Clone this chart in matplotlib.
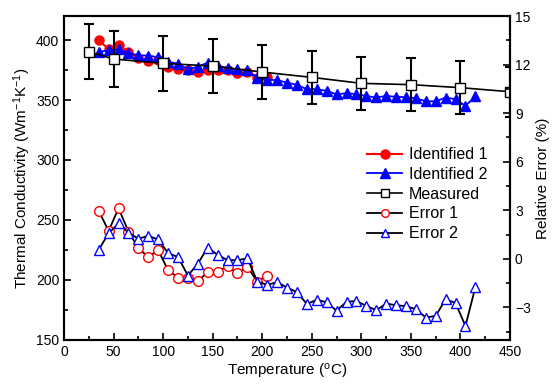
import matplotlib
matplotlib.use('Agg')
import matplotlib.pyplot as plt
from matplotlib.ticker import MultipleLocator

plt.rcParams['font.family'] = ['Liberation Sans', 'DejaVu Sans']
plt.rcParams['mathtext.default'] = 'regular'

# measured conductivity with error bars
t_meas = [25, 50, 100, 150, 200, 250, 300, 350, 400, 450]
k_meas = [390.3, 384.2, 380.6, 378.3, 373.3, 368.9, 363.9, 362.8, 360.3, 356.9]
k_err = [23, 23, 23, 22.5, 22.5, 22, 22, 22, 22, 21]

# identified values
t_id1 = [35, 45, 55, 65, 75, 85, 95, 105, 115, 125, 135, 145, 155, 165, 175, 185, 195, 205]
k_id1 = [400.0, 392.2, 396.0, 389.8, 385.1, 382.4, 383.0, 377.7, 375.5, 374.9,
         373.7, 375.4, 374.9, 375.1, 372.4, 373.0, 368.6, 369.2]
err1 = [2.96, 1.73, 3.13, 1.69, 0.66, 0.12, 0.54, -0.70, -1.15, -1.19,
        -1.36, -0.82, -0.78, -0.45, -0.90, -0.49, -1.40, -1.03]

t_id2 = list(range(35, 420, 10))
k_id2 = [390.1, 391.5, 392.2, 389.3, 387.2, 387.1, 385.6, 381.7, 380.4, 375.5,
         377.9, 381.1, 378.7, 376.5, 375.5, 374.9, 368.6, 366.9, 366.6, 364.5,
         362.6, 359.0, 359.1, 357.6, 354.7, 355.7, 354.9, 353.3, 352.1, 353.4,
         352.7, 352.3, 351.4, 349.0, 348.9, 352.0, 350.7, 345.1, 353.0]
err2 = [0.56, 1.59, 2.20, 1.62, 1.25, 1.42, 1.20, 0.35, 0.12, -1.03,
        -0.29, 0.70, 0.25, -0.08, -0.08, 0.04, -1.40, -1.60, -1.44, -1.77,
        -2.05, -2.79, -2.52, -2.68, -3.20, -2.65, -2.60, -2.90, -3.17, -2.76,
        -2.86, -2.92, -3.10, -3.62, -3.52, -2.49, -2.73, -4.14, -1.75]

fig = plt.figure(figsize=(5.52, 3.92), dpi=100)
ax = fig.add_axes([0.116, 0.133, 0.808, 0.826])
ax2 = ax.twinx()

l1, = ax.plot(t_id1, k_id1, '-o', color='red', lw=1.5, ms=6.5, label='Identified 1')
l2, = ax.plot(t_id2, k_id2, '-^', color='blue', lw=1.3, ms=7, label='Identified 2')
ax.errorbar(t_meas, k_meas, yerr=k_err, fmt='none', ecolor='black', elinewidth=1.5,
            capsize=3.5, capthick=1.5, zorder=4)
l3, = ax.plot(t_meas, k_meas, '-s', color='black', lw=1.2, ms=6.5, mfc='white',
              mec='black', label='Measured', zorder=5)

l4, = ax2.plot(t_id1, err1, '-o', color='black', lw=1.3, ms=7, mfc='white',
               mec='red', label='Error 1')
l5, = ax2.plot(t_id2, err2, '-^', color='black', lw=1.3, ms=7.5, mfc='white',
               mec='blue', label='Error 2')

ax.set_xlim(0, 450)
ax.set_ylim(150, 420)
ax2.set_ylim(-5, 15)

ax.xaxis.set_major_locator(MultipleLocator(50))
ax.xaxis.set_minor_locator(MultipleLocator(25))
ax.yaxis.set_major_locator(MultipleLocator(50))
ax.yaxis.set_minor_locator(MultipleLocator(25))
ax2.yaxis.set_major_locator(MultipleLocator(3))
ax2.yaxis.set_minor_locator(MultipleLocator(1.5))

ax.tick_params(axis='both', which='both', direction='in', labelsize=10, width=1.2)
ax.tick_params(which='major', length=5)
ax.tick_params(which='minor', length=3)
ax.tick_params(axis='y', right=False)
ax2.tick_params(axis='y', which='both', direction='in', labelsize=10, width=1.2)
ax2.tick_params(which='major', length=5)
ax2.tick_params(which='minor', length=3)

for a in (ax, ax2):
    for s in a.spines.values():
        s.set_linewidth(1.5)

ax.set_xlabel('Temperature ($^{o}$C)', fontsize=11, labelpad=2)
ax.set_ylabel('Thermal Conductivity (Wm$^{-1}$K$^{-1}$)', fontsize=11, labelpad=2)
ax2.set_ylabel('Relative Error (%)', fontsize=11, labelpad=4)

leg = ax2.legend(handles=[l1, l2, l3, l4, l5], loc='upper left', bbox_to_anchor=(0.665, 0.615),
                 frameon=False, fontsize=11.5, handlelength=2.2, handletextpad=0.4,
                 labelspacing=0.3, borderaxespad=0)
# smaller hollow markers in the legend, as in the original
for h in leg.legend_handles[2:]:
    h.set_markersize(5.5)

fig.savefig('out.png', dpi=100)
